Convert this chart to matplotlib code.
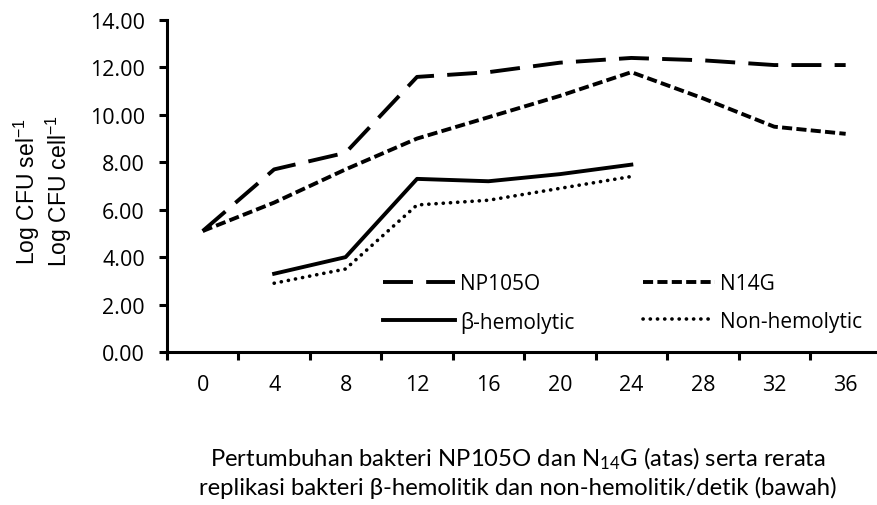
import matplotlib
matplotlib.use("Agg")
import matplotlib.pyplot as plt

# data
hours = ["0", "4", "8", "12", "16", "20", "24", "28", "32", "36"]
np105o = [5.1, 7.7, 8.4, 11.6, 11.8, 12.2, 12.4, 12.3, 12.1, 12.1]
n14g = [5.1, 6.3, 7.7, 9.0, 9.9, 10.8, 11.8, 10.7, 9.5, 9.2]
beta_hem = [None, 3.3, 4.0, 7.3, 7.2, 7.5, 7.9]
non_hem = [None, 2.9, 3.5, 6.2, 6.4, 6.9, 7.4]
y_ticks = [0, 2, 4, 6, 8, 10, 12, 14]

plt.rcParams["font.family"] = ["Open Sans", "DejaVu Sans"]
plt.rcParams["mathtext.default"] = "regular"

fig = plt.figure(figsize=(8.77, 5.06), dpi=100)
ax = fig.add_axes([0.1904, 0.3024, 0.8146, 0.6561])

x = list(range(len(hours)))
xb = [i for i, v in enumerate(beta_hem) if v is not None]
yb = [v for v in beta_hem if v is not None]
xn = [i for i, v in enumerate(non_hem) if v is not None]
yn = [v for v in non_hem if v is not None]

l1, = ax.plot(x, np105o, color="black", lw=2.8, linestyle=(0, (7.7, 3.4)))
l2, = ax.plot(x, n14g, color="black", lw=2.8, linestyle=(0, (2.6, 1.1)))
l3, = ax.plot(xb, yb, color="black", lw=2.8, linestyle="-")
l4, = ax.plot(xn, yn, color="black", lw=2.6, linestyle=(0, (0.05, 1.95)),
              dash_capstyle="round")

ax.set_xlim(-0.5, len(hours) - 0.5)
ax.set_ylim(0, 14)
ax.set_yticks(y_ticks)
ax.set_yticklabels(["%.2f" % v for v in y_ticks], fontsize=15.5)
ax.set_xticks(x)
ax.set_xticklabels(hours, fontsize=15.5)
ax.set_xticks([i - 0.5 for i in range(len(hours) + 1)], minor=True)
ax.tick_params(axis="x", which="major", length=0, pad=16)
ax.tick_params(axis="x", which="minor", length=6, width=2.2)
ax.tick_params(axis="y", length=6, width=2.2, pad=10)

for s in ["top", "right"]:
    ax.spines[s].set_visible(False)
for s in ["left", "bottom"]:
    ax.spines[s].set_linewidth(2.2)

# legend filled column-wise, so order handles to get rows NP105O/N14G, beta/non
ax.legend([l1, l3, l2, l4], ["NP105O", "β-hemolytic", "N14G", "Non-hemolytic"],
          loc="upper left", bbox_to_anchor=(0.3025, 0.238), ncol=2, frameon=False,
          fontsize=15, handlelength=3.45, handletextpad=0.25,
          columnspacing=3.3, labelspacing=0.8, borderpad=0, borderaxespad=0)

fig.text(0.049, 0.622, "Log CFU sel$^{-1}$\nLog CFU cell$^{-1}$", rotation=90,
         ha="center", va="center", fontsize=16.5, family="Liberation Sans",
         linespacing=1.05)

fig.text(0.590, 0.066, "Pertumbuhan bakteri NP105O dan N$_{14}$G (atas) serta rerata\n"
         "replikasi bakteri β-hemolitik dan non-hemolitik/detik (bawah)",
         ha="center", va="center", fontsize=17.2, family=["Lato", "DejaVu Sans"],
         linespacing=1.25)

fig.savefig("out.png", dpi=100)
